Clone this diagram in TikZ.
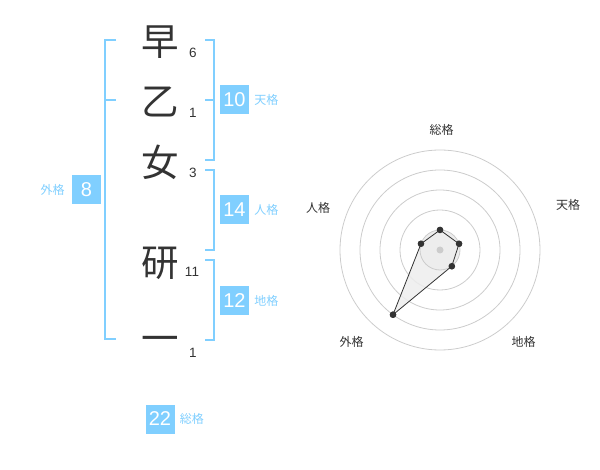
\documentclass[tikz,border=0pt]{standalone}
\usepackage{fontspec}
\setmainfont{Liberation Sans}
\newfontfamily\cjk{Noto Sans CJK JP}
\usepackage{xcolor}
\usepackage{tikz}
\usetikzlibrary{positioning}
\definecolor{kakublue}{HTML}{80CFFF}
\definecolor{inkgray}{HTML}{333333}
\definecolor{ringgray}{HTML}{CCCCCC}

\begin{document}
\begin{tikzpicture}[x=1pt, y=-1pt,
  every node/.style={inner sep=0pt},
  kanji/.style={font=\cjk\fontsize{37.5}{37.5}\selectfont, text=inkgray, anchor=base},
  strokes/.style={font=\fontsize{13.5}{13.5}\selectfont, text=inkgray},
  scorebox/.style={fill=kakublue, text=white, minimum width=29pt, minimum height=29pt,
                   font=\fontsize{20}{20}\selectfont},
  kakulabel/.style={font=\cjk\fontsize{12}{12}\selectfont, text=kakublue},
  bracket/.style={draw=kakublue, line width=2pt},
  ring/.style={draw=ringgray, line width=0.8pt},
  axislabel/.style={font=\cjk\fontsize{12}{12}\selectfont, text=inkgray},
  vdot/.style={circle, fill=inkgray, minimum size=6.5pt},
]
\useasboundingbox (0,0) rectangle (600,470);

% Name characters
\node[kanji] (c1) at (160,56)  {早};
\node[kanji] (c2) at (160,116) {乙};
\node[kanji] (c3) at (160,177) {女};
\node[kanji] (c4) at (160,277) {研};
\node[kanji] (c5) at (160,353) {一};

% Stroke counts
\node[strokes] (n1) at (193,53)  {6};
\node[strokes] (n2) at (193,113) {1};
\node[strokes] (n3) at (193,173) {3};
\node[strokes] (n4) at (192,272) {11};
\node[strokes] (n5) at (193,353) {1};

% Brackets
\draw[bracket] (116,40) -- (105,40) -- (105,339) -- (116,339);
\draw[bracket] (105,100) -- (116,100);
\draw[bracket] (205,40) -- (214,40) -- (214,160) -- (205,160);
\draw[bracket] (205,100) -- (214,100);
\draw[bracket] (205,170) -- (214,170) -- (214,250) -- (205,250);
\draw[bracket] (205,260) -- (214,260) -- (214,340) -- (205,340);

% Scores
\node[scorebox] (gai) at (86.5,190) {8};
\node[kakulabel, left=7pt of gai] (gaiL) {外格};
\node[scorebox] (ten) at (234.5,100) {10};
\node[kakulabel, right=5pt of ten] (tenL) {天格};
\node[scorebox] (jin) at (234.5,210) {14};
\node[kakulabel, right=5pt of jin] (jinL) {人格};
\node[scorebox] (chi) at (234.5,300.5) {12};
\node[kakulabel, right=5pt of chi] (chiL) {地格};
\node[scorebox] (sou) at (160,419) {22};
\node[kakulabel, right=5pt of sou] (souL) {総格};

% Radar chart
\coordinate (ctr) at (440,250);
\foreach \r in {40,60,80,100}
  \draw[ring] (ctr) circle[radius=\r];
\fill[black!7] (ctr) circle[radius=20];

\node[vdot] (pSou) at (440,230) {};
\node[vdot] (pTen) at (459,243.8) {};
\node[vdot] (pChi) at (451.8,266.2) {};
\node[vdot] (pGai) at (393,314.7) {};
\node[vdot] (pJin) at (421,243.8) {};

\fill[black!7, opacity=0.85] (pSou.center) -- (pTen.center) -- (pChi.center)
  -- (pGai.center) -- (pJin.center) -- cycle;
\draw[ring] (ctr) circle[radius=20];
\draw[inkgray, line width=0.8pt] (pSou.center) -- (pTen.center) -- (pChi.center)
  -- (pGai.center) -- (pJin.center) -- cycle;
\fill[ringgray] (ctr) circle[radius=3.5];
\foreach \p in {pSou,pTen,pChi,pGai,pJin}
  \node[vdot] at (\p) {};

% Axis labels
\node[axislabel] (aSou) at (441.5,130) {総格};
\node[axislabel] (aTen) at (568,205)   {天格};
\node[axislabel] (aChi) at (523.5,342) {地格};
\node[axislabel] (aGai) at (351.5,342) {外格};
\node[axislabel] (aJin) at (318,208)   {人格};

\end{tikzpicture}
\end{document}
